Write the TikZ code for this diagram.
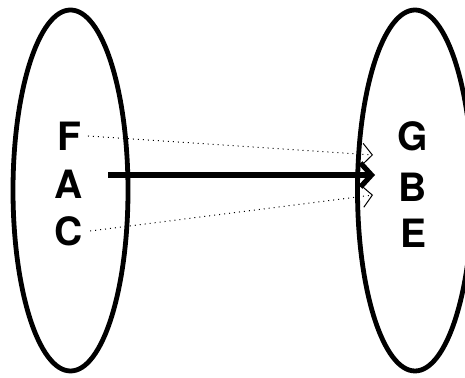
\documentclass[tikz,border=0pt]{standalone}
\usepackage{fontspec}
\setmainfont{TeX Gyre Heros}
\usepackage{tikz}
\usetikzlibrary{calc, positioning, arrows.meta}
\tikzstyle{lbl}=[inner sep=0.3333em, font=\fontsize{19.5}{22}\selectfont\bfseries]
\tikzstyle{setline}=[line width=2.4pt]
\tikzstyle{map}=[line width=0.5pt, dotted, -{Straight Barb[length=5pt, width=11pt, line width=0.5pt]}]
\tikzset{>=stealth}

\begin{document}
\begin{tikzpicture}[x=0.5pt, y=-0.5pt]
\useasboundingbox (0,0) rectangle (465,378);
\draw[setline] (70.5,190.5) ellipse (57.5 and 180.5);
\draw[setline] (415,190.5) ellipse (57.5 and 180.5);
\foreach \l/\y in {F/136,A/184,C/231}{
\node[lbl] (\l) at (69,\y) {\l};
}
\foreach \l/\y in {G/136,B/187,E/233}{
\node[lbl] (\l) at (413,\y) {\l};
}
\coordinate (a0) at (108,175);
\coordinate (a1) at (375,175);
\coordinate (f1) at (373,155);
\coordinate (c1) at (373,195);
\draw[map] (F.east) -- (f1);
\draw[map] (C.east) -- (c1);
\draw[line width=2.6pt, -{Straight Barb[length=5.5pt, width=12pt]}] (a0) -- (a1);
%\node[right = 2mm of B] {};
\end{tikzpicture}
\end{document}
